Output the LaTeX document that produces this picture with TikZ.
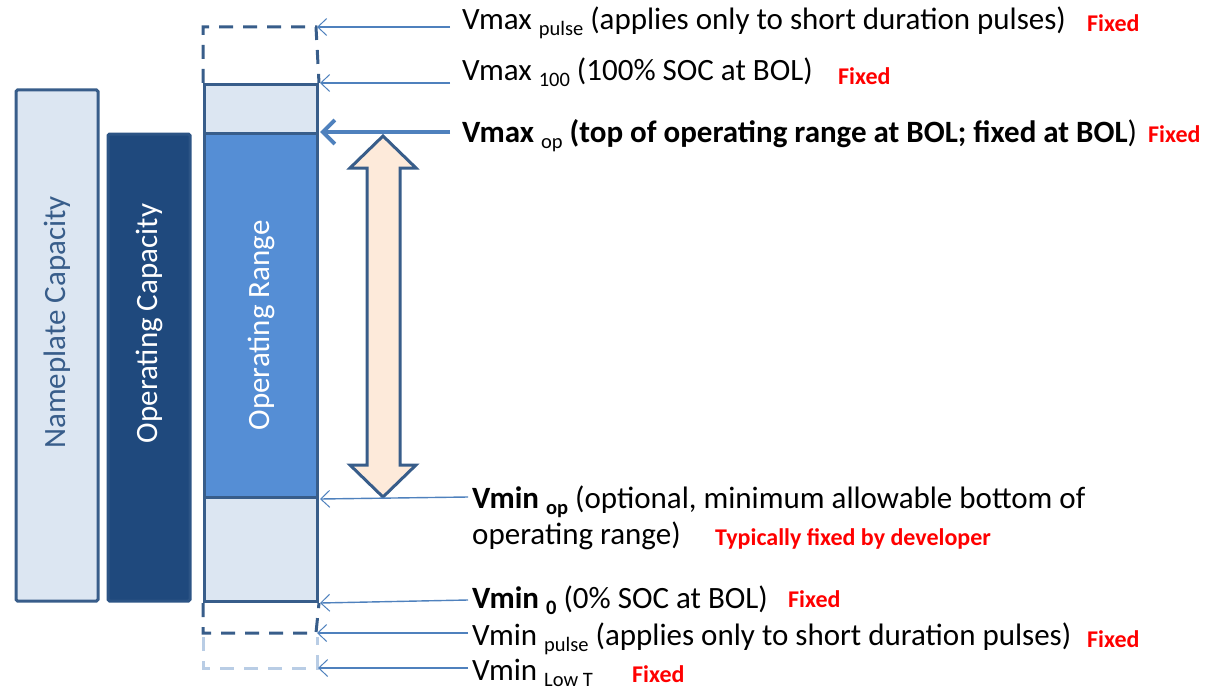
\documentclass[tikz,border=0pt]{standalone}
\usepackage{fontspec}
\setmainfont{Carlito}
\usetikzlibrary{arrows.meta}
\definecolor{lightfill}{HTML}{DCE6F2}
\definecolor{boxline}{HTML}{385D8A}
\definecolor{darkfill}{HTML}{1F497D}
\definecolor{darkline}{HTML}{2C5485}
\definecolor{midfill}{HTML}{558ED5}
\definecolor{arrowblue}{HTML}{4F81BD}
\definecolor{peach}{HTML}{FDEADA}
\definecolor{paleblue}{HTML}{B9CDE5}
\definecolor{fixedred}{HTML}{FF0000}
\newcommand\sbs[1]{\raisebox{-6pt}{\fontsize{20.5}{21}\selectfont #1}}
\tikzset{
  boxbase/.style={rectangle, inner sep=0pt, line width=3pt, anchor=north west},
  lightbox/.style={boxbase, draw=boxline, fill=lightfill},
  vtext/.style={font=\fontsize{31}{33}\selectfont, rotate=90},
  lbl/.style={anchor=base west, inner sep=0pt, font=\fontsize{31}{35}\selectfont},
  fixed/.style={anchor=base west, inner sep=0pt, text=fixedred, font=\fontsize{24}{26}\selectfont\bfseries},
  thin/.style={draw=arrowblue, line width=1.4pt, -{Straight Barb[length=9pt,width=17pt,line width=1pt]}},
  thick/.style={draw=arrowblue, line width=4pt, -{Straight Barb[length=12pt,width=24pt,line width=4pt]}},
  dashdark/.style={draw=boxline, line width=3pt, dash pattern=on 14pt off 10pt},
  dashlight/.style={draw=paleblue, line width=3pt, dash pattern=on 14pt off 10pt},
}
\begin{document}
\begin{tikzpicture}[x=1pt,y=-1pt]
\useasboundingbox (0,0) rectangle (1206,690);
% left boxes
\node[boxbase, draw=boxline, fill=lightfill, rounded corners=1.5pt, minimum width=82pt, minimum height=511pt] (name) at (14.5,88.5) {};
\node[vtext, text=boxline] at ([yshift=23pt]name.center) {Nameplate Capacity};
\node[boxbase, draw=darkline, fill=darkfill, rounded corners=1.5pt, minimum width=82pt, minimum height=467pt] (opcap) at (106.5,132.5) {};
\node[vtext, text=white] at ([yshift=44pt]opcap.center) {Operating Capacity};
% main column
\node[lightbox, minimum width=113pt, minimum height=49pt] (v100) at (203,83) {};
\node[lightbox, minimum width=113pt, minimum height=104pt] (low) at (203,496) {};
\node[boxbase, draw=boxline, fill=midfill, minimum width=113pt, minimum height=364pt] (opr) at (203,132) {};
\node[vtext, text=white] at ([yshift=-10pt]opr.center) {Operating Range};
% dashed extents
\coordinate (ptop) at (316,27);
\coordinate (pbot) at (316,633);
\coordinate (lowt) at (317,668);
\draw[dashdark] (v100.north west) -- (203,27) -- (ptop) -- (v100.north east);
\draw[dashdark] (low.south west) -- (203,633) -- (pbot) -- (low.south east);
\draw[dashlight] (203,637) -- (203,668) -- (lowt) -- (317,637);
% double arrow
\draw[draw=boxline, fill=peach, line width=3pt, line join=miter]
  (383,136) -- (416,168) -- (400,168) -- (400,465) -- (416,465) -- (383,497)
  -- (350,465) -- (367,465) -- (367,168) -- (350,168) -- cycle;
% labels
\node[lbl] (l1) at (462,30) {Vmax \sbs{pulse} (applies only to short duration pulses)};
\node[fixed] (f1) at (1087,32) {Fixed};
\node[lbl] (l2) at (462,81) {Vmax \sbs{100} (100\% SOC at BOL)};
\node[fixed] (f2) at (838,85) {Fixed};
\node[lbl] (l3) at (462,142) {\textbf{Vmax} \sbs{op} \textbf{(top of operating range at BOL; fixed at BOL})};
\node[fixed] (f3) at (1148,142) {Fixed};
\node[lbl] (l4) at (472,508) {\textbf{Vmin \sbs{\bfseries op}} (optional, minimum allowable bottom of};
\node[lbl] (l5) at (472,544) {operating range)};
\node[fixed] (f5) at (715,545) {Typically fixed by developer};
\node[lbl] (l6) at (472,608) {\textbf{Vmin \sbs{\bfseries 0}} (0\% SOC at BOL)};
\node[fixed] (f6) at (788,607) {Fixed};
\node[lbl] (l7) at (472,645) {Vmin \sbs{pulse} (applies only to short duration pulses)};
\node[fixed] (f7) at (1087,647) {Fixed};
\node[lbl] (l8) at (472,680) {Vmin \sbs{Low T}};
\node[fixed] (f8) at (632,682) {Fixed};
% connector start points
\coordinate (s1) at (450,27);
\coordinate (s2) at (450,83);
\coordinate (s3) at (450,132);
\coordinate (s4) at (468,497);
\coordinate (s6) at (468,600);
\coordinate (s7) at (468,633);
\coordinate (s8) at (468,668);
\draw[thin] (s1) -- ([xshift=1pt]ptop);
\draw[thin] (s2) -- ([xshift=1pt]v100.north east);
\draw[thick] (s3) -- ([xshift=1pt]opr.north east);
\draw[thin] (s4) -- ([xshift=1pt]opr.south east);
\draw[thin] (s6) -- ([xshift=1pt]low.south east);
\draw[thin] (s7) -- ([xshift=1pt]pbot);
\draw[thin] (s8) -- ([xshift=1pt]lowt);
\end{tikzpicture}
\end{document}
